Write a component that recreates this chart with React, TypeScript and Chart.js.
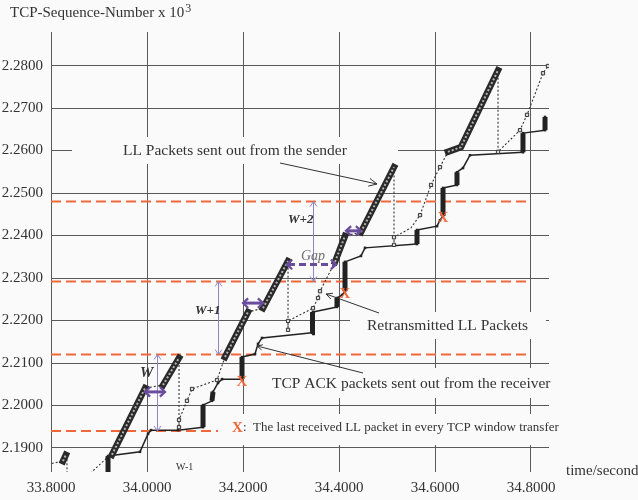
import React, { useEffect, useRef } from "react";
import { Chart, registerables } from "chart.js";
Chart.register(...registerables);

const BG = "#fafafa";
const FONT = "'Liberation Serif', 'Times New Roman', serif";
const ORANGE = "#f0683a";
const PURPLE = "#6a4c9c";
const LAVENDER = "#9283c4";
const INK = "#333333";

// Axes
const xTicks = [33.8, 34.0, 34.2, 34.4, 34.6, 34.8];
const yTicks = [2.19, 2.2, 2.21, 2.22, 2.23, 2.24, 2.25, 2.26, 2.27, 2.28];
const X_MIN = 33.8;
const X_MAX = 34.8375;
const Y_MIN = 2.18435;
const Y_MAX = 2.2879;

// LL packets sent out from the sender (runs separated by null)
const senderT = [33.825, 33.831, 33.88, 33.927, 33.996, 34.01, 34.0333, 34.0667, 34.1, 34.1625, 34.2104, 34.225, 34.2417, 34.2938, 34.31, 34.3917, 34.4125, 34.43, 34.4458, 34.5146, 34.6, 34.627, 34.654, 34.7313];
const senderV = [2.1869, 2.1884, null, 2.1884, 2.2041, null, 2.2048, 2.2112, null, 2.2114, 2.222, null, 2.2229, 2.234, null, 2.2338, 2.2399, null, 2.2408, 2.2561, null, 2.2597, 2.2608, 2.2789];

// dotted connection path of the sender trace
const pathT = [33.7771, 33.825, 33.8313, 33.8333, 33.8333, 33.8708, 33.9188, 33.927, 33.996, 34.0333, 34.0667, 34.0667, 34.0667, 34.0833, 34.0938, 34.1458, 34.1625, 34.2104, 34.2417, 34.2938, 34.2938, 34.2938, 34.3458, 34.3563, 34.3604, 34.3917, 34.4125, 34.4458, 34.5146, 34.5146, 34.5146, 34.55, 34.5688, 34.5917, 34.6104, 34.627, 34.654, 34.7313, 34.7313, 34.7771, 34.7917, 34.825, 34.8354, 34.852];
const pathV = [2.1858, 2.1869, 2.1884, 2.1884, 2.1829, 2.1829, 2.1879, 2.1884, 2.2041, 2.2048, 2.2112, 2.1949, 2.1966, 2.2011, 2.2039, 2.206, 2.2114, 2.222, 2.2229, 2.234, 2.2178, 2.2199, 2.2229, 2.2253, 2.2269, 2.2338, 2.2399, 2.2408, 2.2561, 2.2378, 2.2396, 2.2418, 2.2448, 2.2519, 2.2561, 2.2597, 2.2608, 2.2789, 2.2597, 2.2648, 2.2684, 2.2782, 2.2799, 2.2818];

// Retransmitted LL packets
const retransT = [34.0667, 34.0667, 34.0833, 34.0938, 34.1458, 34.2938, 34.2938, 34.3458, 34.3563, 34.3604, 34.5146, 34.5146, 34.5688, 34.5917, 34.6104, 34.7313, 34.7771, 34.7917, 34.825, 34.8354];
const retransV = [2.1949, 2.1966, 2.2011, 2.2039, 2.206, 2.2178, 2.2199, 2.2229, 2.2253, 2.2269, 2.2378, 2.2396, 2.2448, 2.2519, 2.2561, 2.2597, 2.2648, 2.2684, 2.2782, 2.2799];

// TCP ACK packets sent out from the receiver
const ackT = [33.9188, 33.9188, 33.9854, 34.0021, 34.0083, 34.0646, 34.1167, 34.1167, 34.1354, 34.1375, 34.1479, 34.1563, 34.1979, 34.1979, 34.225, 34.2313, 34.2396, 34.3438, 34.3438, 34.3458, 34.3958, 34.3958, 34.4063, 34.4125, 34.4125, 34.4458, 34.4542, 34.5625, 34.5625, 34.6042, 34.6104, 34.6167, 34.6167, 34.6458, 34.6458, 34.6583, 34.6729, 34.7833, 34.7833, 34.8292, 34.8292];
const ackV = [2.1829, 2.1881, 2.1891, 2.1933, 2.1942, 2.1942, 2.1949, 2.2001, 2.2011, 2.2032, 2.2053, 2.2062, 2.2062, 2.2114, 2.2121, 2.2145, 2.2159, 2.2171, 2.2196, 2.222, 2.2232, 2.2253, 2.226, 2.2269, 2.2338, 2.2352, 2.2371, 2.238, 2.2413, 2.2422, 2.2436, 2.2446, 2.2512, 2.2519, 2.2549, 2.2559, 2.2589, 2.2596, 2.2641, 2.2648, 2.2679];

// TCP window boundaries (orange dashed)
const windowLevels = [2.194, 2.212, 2.2292, 2.248];
const windowStartT = [33.8, 33.8, 33.8, 33.8];
const windowEndT = [34.148, 34.798, 34.798, 34.798];

// last received LL packet in each window
const lastT = [34.1979, 34.4125, 34.6167];
const lastV = [2.2058, 2.2265, 2.2444];

const pts = (t: number[], v: (number | null)[]) => t.map((x, i) => ({ x, y: v[i] }));

function head(ctx: CanvasRenderingContext2D, x: number, y: number, ang: number, size: number, spread: number) {
  ctx.beginPath();
  ctx.moveTo(x + size * Math.cos(ang + Math.PI - spread), y + size * Math.sin(ang + Math.PI - spread));
  ctx.lineTo(x, y);
  ctx.lineTo(x + size * Math.cos(ang + Math.PI + spread), y + size * Math.sin(ang + Math.PI + spread));
  ctx.stroke();
}

function callout(ctx: CanvasRenderingContext2D, x1: number, y1: number, x2: number, y2: number, size: number) {
  ctx.save();
  ctx.strokeStyle = INK;
  ctx.lineWidth = 1;
  ctx.beginPath();
  ctx.moveTo(x1, y1);
  ctx.lineTo(x2, y2);
  ctx.stroke();
  head(ctx, x2, y2, Math.atan2(y2 - y1, x2 - x1), size, 0.45);
  ctx.restore();
}

const annotations = {
  id: "annotations",
  beforeDraw(chart: any) {
    const c = chart.ctx;
    c.save();
    c.fillStyle = BG;
    c.fillRect(0, 0, chart.width, chart.height);
    c.restore();
  },
  beforeDatasetsDraw(chart: any) {
    const c = chart.ctx;
    c.save();
    c.fillStyle = BG;
    const boxes = [
      [72, 137, 398, 164],
      [350, 312, 546, 339],
      [258, 368, 549, 398],
      [225, 414, 549, 445],
    ];
    boxes.forEach(([a, b, d, e]) => c.fillRect(a, b, d - a, e - b));
    c.restore();
  },
  afterDatasetsDraw(chart: any) {
    const c: CanvasRenderingContext2D = chart.ctx;
    const xs = chart.scales.x;
    const ys = chart.scales.y;
    const X = (t: number) => xs.getPixelForValue(t);
    const Y = (v: number) => ys.getPixelForValue(v);
    c.save();

    // window size arrows (vertical, lavender)
    const wT = [34.0208, 34.148, 34.3458];
    c.strokeStyle = LAVENDER;
    c.lineWidth = 1;
    wT.forEach((t, i) => {
      const x = Math.round(X(t)) + 0.5;
      const y1 = Y(windowLevels[i]);
      const y2 = Y(windowLevels[i + 1]);
      c.beginPath();
      c.moveTo(x, y1);
      c.lineTo(x, y2);
      c.stroke();
      head(c, x, y2, -Math.PI / 2, 6, 0.6);
      head(c, x, y1, Math.PI / 2, 6, 0.6);
    });

    // horizontal double arrows (purple)
    const dbl = [
      { t1: 33.9958, t2: 34.0375, v: 2.2032, dash: false },
      { t1: 34.2, t2: 34.2417, v: 2.2241, dash: false },
      { t1: 34.2917, t2: 34.3938, v: 2.2332, dash: true },
      { t1: 34.4146, t2: 34.4458, v: 2.2411, dash: false },
    ];
    c.strokeStyle = PURPLE;
    dbl.forEach((d) => {
      const x1 = X(d.t1), x2 = X(d.t2), y = Y(d.v);
      c.lineWidth = 3;
      c.setLineDash(d.dash ? [7, 4] : []);
      c.beginPath();
      c.moveTo(x1 + 1, y);
      c.lineTo(x2 - 1, y);
      c.stroke();
      c.setLineDash([]);
      c.lineWidth = 2.2;
      head(c, x1, y, Math.PI, 7, 0.75);
      head(c, x2, y, 0, 7, 0.75);
    });

    // callout lines
    callout(c, 280, 163, 377, 184, 9);
    callout(c, 379, 313, 326, 294, 7);
    callout(c, 363, 373, 257, 346, 6);

    // texts
    c.fillStyle = INK;
    c.textBaseline = "middle";
    c.textAlign = "left";
    c.font = `15.5px ${FONT}`;
    c.fillText("LL Packets sent out from the sender", 123, 151);
    c.fillText("Retransmitted LL Packets", 367, 326);
    c.fillText("TCP ACK packets sent out from the receiver", 272, 384);

    c.font = `bold 15px ${FONT}`;
    c.fillStyle = ORANGE;
    c.fillText("X", 232, 428);
    c.fillStyle = INK;
    c.font = `13px ${FONT}`;
    c.fillText(":  The last received LL packet in every TCP window transfer", 243, 428);

    c.font = `10px ${FONT}`;
    c.fillText("W-1", 176, 467);

    c.font = `italic bold 15px ${FONT}`;
    c.fillText("W", 140, 373);
    c.font = `italic bold 13px ${FONT}`;
    c.fillText("W+1", 195, 311);
    c.fillText("W+2", 288, 220);
    c.fillStyle = "#6e6e6e";
    c.font = `italic 14px ${FONT}`;
    c.fillText("Gap", 301, 256);

    // title & axis name
    c.fillStyle = INK;
    c.textBaseline = "alphabetic";
    c.font = `15px ${FONT}`;
    const title = "TCP-Sequence-Number x 10";
    c.fillText(title, 10, 17);
    const w = c.measureText(title).width;
    c.font = `12px ${FONT}`;
    c.fillText("3", 10 + w + 1, 12);
    c.textBaseline = "middle";
    c.font = `15px ${FONT}`;
    c.fillText("time/second", 566, 471);
    c.restore();
  },
};

export default function App() {
  const ref = useRef<HTMLCanvasElement>(null);
  useEffect(() => {
    document.body.style.margin = "0";
    document.body.style.background = BG;
    const canvas = ref.current!;
    const xGlyph = document.createElement("canvas");
    xGlyph.width = 14;
    xGlyph.height = 14;
    const g = xGlyph.getContext("2d")!;
    g.fillStyle = ORANGE;
    g.font = `bold 15px ${FONT}`;
    g.textAlign = "center";
    g.textBaseline = "middle";
    g.fillText("X", 7, 8);

    const windowSets = windowLevels.map((lv, i) => ({
      data: [{ x: windowStartT[i], y: lv }, { x: windowEndT[i], y: lv }],
      borderColor: ORANGE,
      borderWidth: 2,
      borderDash: [10, 5],
      pointRadius: 0,
      order: 6,
    }));

    const chart = new Chart(canvas, {
      type: "line",
      data: {
        datasets: [
          {
            data: pts(lastT, lastV),
            showLine: false,
            pointStyle: xGlyph as any,
            pointRadius: 6,
            order: 0,
          },
          {
            data: pts(retransT, retransV),
            showLine: false,
            pointStyle: "rect",
            pointRadius: 2.3,
            borderWidth: 1,
            borderColor: "#333",
            backgroundColor: "#dcdcdc",
            order: 1,
          },
          {
            data: pts(senderT, senderV),
            borderColor: "#b4b4b4",
            borderWidth: 2,
            borderDash: [2, 2],
            pointRadius: 0,
            order: 2,
          },
          {
            data: pts(senderT, senderV),
            borderColor: "#2a2a2a",
            borderWidth: 6.5,
            borderCapStyle: "square",
            pointRadius: 0,
            order: 3,
          },
          {
            data: pts(ackT, ackV),
            borderColor: "#222",
            borderWidth: 1.5,
            pointStyle: "rect",
            pointRadius: 1.8,
            pointBorderWidth: 0,
            pointBackgroundColor: "#222",
            segment: {
              borderWidth: (s: any) => (Math.abs(s.p0.x - s.p1.x) < 1.5 ? 5 : 1.5),
            },
            order: 4,
          },
          {
            data: pts(pathT, pathV),
            borderColor: "#333",
            borderWidth: 1.1,
            borderDash: [2, 2],
            pointRadius: 0,
            order: 5,
          },
          ...windowSets,
        ] as any,
      },
      options: {
        responsive: false,
        animation: false,
        events: [],
        layout: { padding: { top: 32, right: 89, bottom: 0, left: 0 } },
        plugins: { legend: { display: false }, tooltip: { enabled: false } },
        scales: {
          x: {
            type: "linear",
            min: X_MIN,
            max: X_MAX,
            afterBuildTicks: (s: any) => {
              s.ticks = xTicks.map((v) => ({ value: v }));
            },
            afterFit: (s: any) => {
              s.height = 28;
            },
            grid: { color: "#5a5a5a", lineWidth: 1, drawTicks: false },
            border: { display: false },
            ticks: {
              padding: 7,
              autoSkip: false,
              maxRotation: 0,
              color: INK,
              font: { family: FONT, size: 15 },
              callback: (v: any) => Number(v).toFixed(4),
            },
          },
          y: {
            type: "linear",
            min: Y_MIN,
            max: Y_MAX,
            afterBuildTicks: (s: any) => {
              s.ticks = yTicks.map((v) => ({ value: v }));
            },
            afterFit: (s: any) => {
              s.width = 51;
            },
            grid: { color: "#5a5a5a", lineWidth: 1, drawTicks: false },
            border: { display: false },
            ticks: {
              padding: 8,
              autoSkip: false,
              color: INK,
              font: { family: FONT, size: 15 },
              callback: (v: any) => Number(v).toFixed(4),
            },
          },
        },
      } as any,
      plugins: [annotations],
    });
    return () => chart.destroy();
  }, []);
  return <canvas ref={ref} width={638} height={500} style={{ display: "block" }} />;
}
